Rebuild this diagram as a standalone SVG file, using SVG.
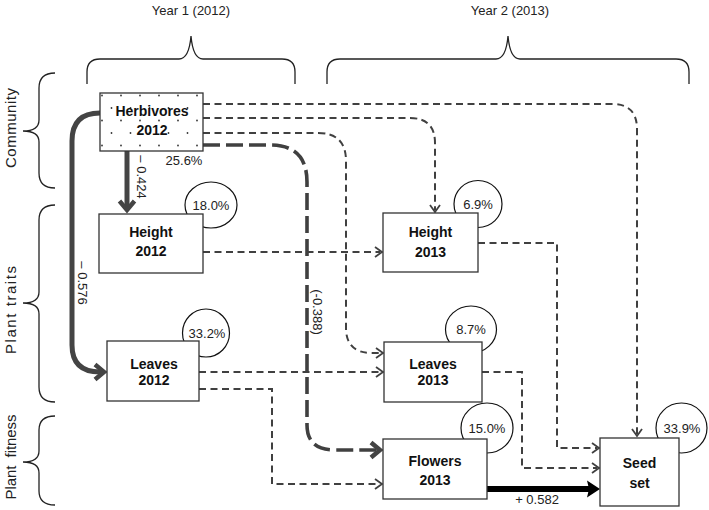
<svg xmlns="http://www.w3.org/2000/svg" width="709" height="510" viewBox="0 0 709 510">
<style>
text{font-family:"Liberation Sans",Arial,sans-serif;fill:#111}
.lbl{font-size:14px;font-weight:bold;text-anchor:middle;dominant-baseline:central}
.pt{font-size:13px;text-anchor:middle;dominant-baseline:central;fill:#222}
.side{font-size:15px;text-anchor:middle;dominant-baseline:central;fill:#222}
.box{fill:#fff;stroke:#333;stroke-width:1.3}
.pct{fill:#fff;stroke:#111;stroke-width:1.2}
.brace{fill:none;stroke:#222;stroke-width:1.3}
.dash{fill:none;stroke:#404040;stroke-width:2;stroke-dasharray:7 4.5}
.ldash{fill:none;stroke:#404040;stroke-width:3.6;stroke-dasharray:17 6}
.solid{fill:none;stroke:#444;stroke-width:5}
.black{fill:none;stroke:#000;stroke-width:6}
</style>
<defs>
<pattern id="dots" patternUnits="userSpaceOnUse" x="100" y="93" width="19" height="25">
<circle cx="2" cy="2.5" r="0.9" fill="#333"/>
<circle cx="11.5" cy="15" r="0.9" fill="#333"/>
</pattern>
<marker id="ao" markerUnits="userSpaceOnUse" viewBox="-10 -7 12 14" refX="-2" refY="0" markerWidth="12" markerHeight="14" orient="auto">
<path d="M-7,-5 L0,0 L-7,5" fill="none" stroke="#404040" stroke-width="1.8"/>
</marker>
<marker id="ag" markerUnits="userSpaceOnUse" viewBox="-16 -11 18 22" refX="-4" refY="0" markerWidth="18" markerHeight="22" orient="auto">
<path d="M-12,-7.5 L-3,0 L-12,7.5" fill="none" stroke="#444" stroke-width="4.5"/>
</marker>
<marker id="ab" markerUnits="userSpaceOnUse" viewBox="-15 -10 16 20" refX="-6" refY="0" markerWidth="16" markerHeight="20" orient="auto">
<path d="M0,0 L-13,-8.5 L-11,0 L-13,8.5 Z" fill="#000"/>
</marker>
</defs>

<g id="headers">
<text x="191" y="10" class="pt" style="font-size:13px">Year 1 (2012)</text>
<text x="510" y="10" class="pt" style="font-size:13px">Year 2 (2013)</text>
<path class="brace" d="M87,84 V72 Q87,59 100,59 H179 Q189,59 191,36 Q193,59 203,59 H282 Q295,59 295,72 V84"/>
<path class="brace" d="M327,84 V72 Q327,59 340,59 H496 Q506,59 508,36 Q510,59 520,59 H676 Q689,59 689,72 V84"/>
<path class="brace" d="M55,73 Q39,73 39,88 V120 Q39,131 23,131 Q39,131 39,142 V173 Q39,188 55,188"/>
<path class="brace" d="M55,205 Q39,205 39,220 V292 Q39,303 23,303 Q39,303 39,314 V387 Q39,402 55,402"/>
<path class="brace" d="M55,416 Q39,416 39,430 V451 Q39,462 23,462 Q39,462 39,473 V491 Q39,505 55,505"/>
<text class="side" transform="translate(10,128) rotate(-90)" textLength="80" lengthAdjust="spacing">Community</text>
<text class="side" transform="translate(10,310) rotate(-90)" textLength="88" lengthAdjust="spacing">Plant traits</text>
<text class="side" transform="translate(10,457) rotate(-90)" textLength="85" lengthAdjust="spacing" style="white-space:pre">Plant  fitness</text>
</g>

<g id="circles">
<ellipse class="pct" cx="211" cy="205" rx="26" ry="23"/>
<ellipse class="pct" cx="206" cy="333" rx="23.5" ry="24"/>
<ellipse class="pct" cx="478" cy="204" rx="24" ry="23.5"/>
<ellipse class="pct" cx="471" cy="329.5" rx="25.5" ry="23.5"/>
<ellipse class="pct" cx="487" cy="428" rx="26" ry="25"/>
<ellipse class="pct" cx="681.5" cy="428" rx="25.5" ry="25"/>
</g>

<g id="connectors">
<path class="dash" d="M203,104 H612 Q637,104 637,129 V434" marker-end="url(#ao)"/>
<path class="dash" d="M203,118 H410 Q435,118 435,143 V210" marker-end="url(#ao)"/>
<path class="dash" d="M203,133 H318 Q346,133 346,161 V328 Q346,353 372,353 H381" marker-end="url(#ao)"/>
<path class="ldash" d="M203,145 H270 Q307,145 307,182 V425 Q307,450 335,450 H379" marker-end="url(#ag)"/>
<path class="dash" d="M203,252 H380" marker-end="url(#ao)"/>
<path class="dash" d="M478,243 H557 V448 H597" marker-end="url(#ao)"/>
<path class="dash" d="M199,372 H381" marker-end="url(#ao)"/>
<path class="dash" d="M199,389 H272 V484 H380" marker-end="url(#ao)"/>
<path class="dash" d="M482,372 H522 V468 H597" marker-end="url(#ao)"/>
<path class="black" d="M487,489 H594" marker-end="url(#ab)"/>
<path class="solid" d="M127,151 V209" marker-end="url(#ag)"/>
<path class="solid" d="M100,113 Q72,113 72,141 V345 Q72,372 100,372 H103" marker-end="url(#ag)"/>
</g>

<g id="edge-labels">
<text class="pt" transform="translate(141,177) rotate(90)">– 0.424</text>
<text class="pt" transform="translate(82,283) rotate(90)">– 0.576</text>
<text class="pt" transform="translate(317,312) rotate(90)">(-0.388)</text>
<text class="pt" x="537" y="499">+ 0.582</text>
<text class="pt" x="184" y="160">25.6%</text>
</g>

<g id="herbivores-2012">
<rect class="box" x="100" y="93" width="103" height="58"/>
<rect x="100.7" y="93.7" width="101.6" height="56.6" fill="url(#dots)"/>
<text class="lbl" x="152" y="111">Herbivores</text>
<text class="lbl" x="152" y="130">2012</text>
</g>
<g id="height-2012">
<rect class="box" x="99" y="214" width="104" height="59"/>
<text class="lbl" x="151" y="232">Height</text>
<text class="lbl" x="151" y="251">2012</text>
</g>
<g id="leaves-2012">
<rect class="box" x="107" y="341" width="92" height="60"/>
<text class="lbl" x="154" y="364">Leaves</text>
<text class="lbl" x="154" y="380">2012</text>
</g>
<g id="height-2013">
<rect class="box" x="383" y="213" width="95" height="59"/>
<text class="lbl" x="430.5" y="232">Height</text>
<text class="lbl" x="430.5" y="252">2013</text>
</g>
<g id="leaves-2013">
<rect class="box" x="384" y="342" width="98" height="60"/>
<text class="lbl" x="433" y="364">Leaves</text>
<text class="lbl" x="433" y="380">2013</text>
</g>
<g id="flowers-2013">
<rect class="box" x="383" y="439" width="104" height="60"/>
<text class="lbl" x="435" y="461">Flowers</text>
<text class="lbl" x="435" y="480">2013</text>
</g>
<g id="seed-set">
<rect class="box" x="600" y="438" width="79" height="68"/>
<text class="lbl" x="639.5" y="463">Seed</text>
<text class="lbl" x="639.5" y="483">set</text>
</g>

<g id="pct-labels">
<text class="pt" x="211" y="205">18.0%</text>
<text class="pt" x="207" y="333">33.2%</text>
<text class="pt" x="478" y="204">6.9%</text>
<text class="pt" x="471" y="329">8.7%</text>
<text class="pt" x="487" y="428">15.0%</text>
<text class="pt" x="682" y="428">33.9%</text>
</g>
</svg>
